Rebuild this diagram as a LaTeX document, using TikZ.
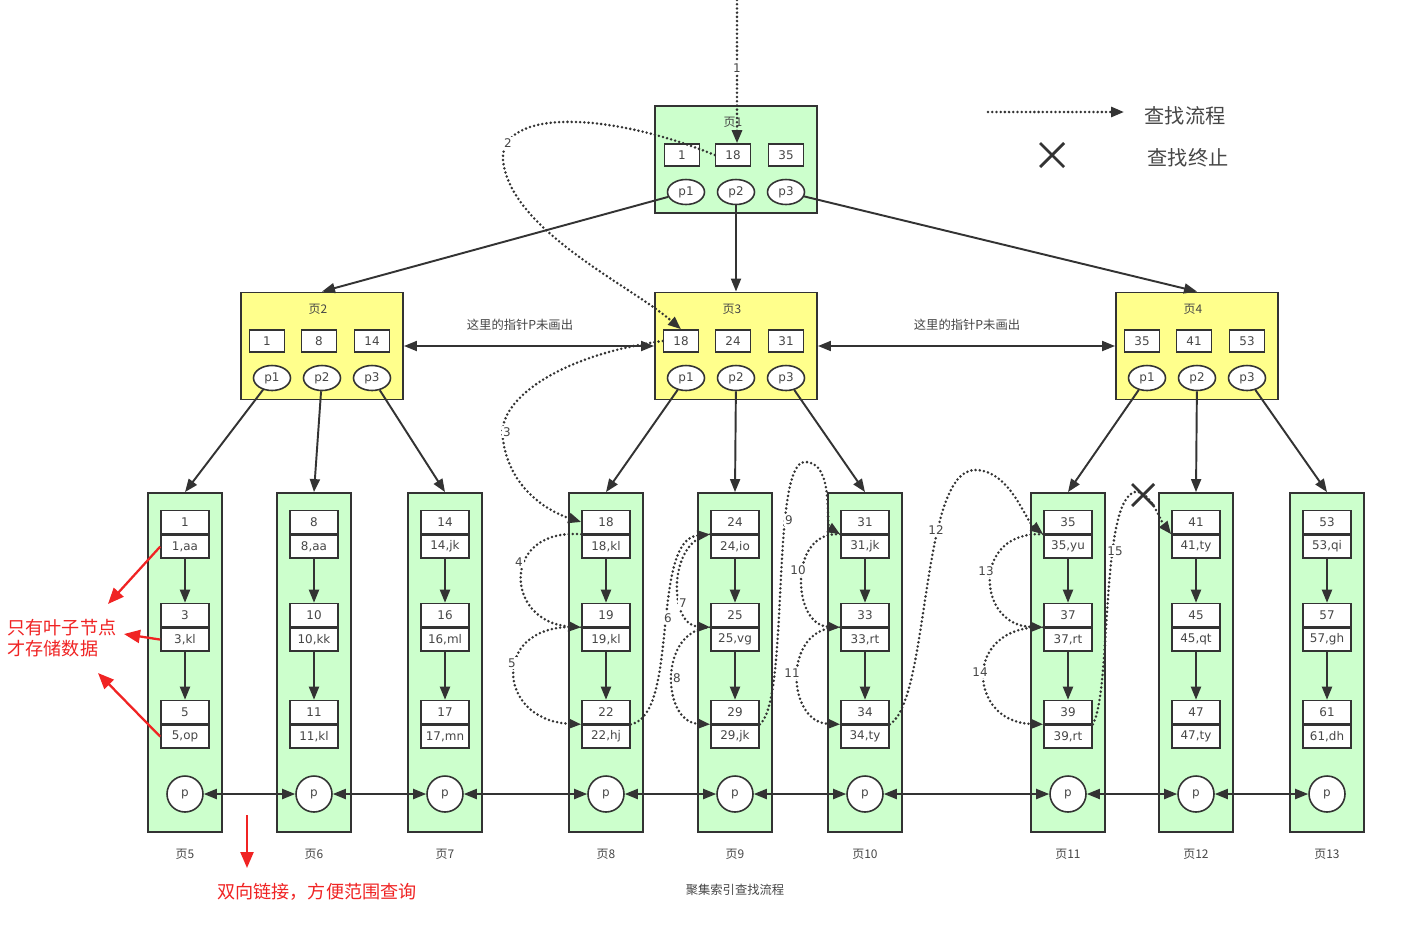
\documentclass[tikz,border=0pt]{standalone}
\usepackage{fontspec}
\setmainfont{DejaVu Sans}
\newfontfamily\cjk{Noto Sans CJK SC}
\usetikzlibrary{arrows.meta,positioning,shapes.geometric}

\definecolor{leafgreen}{RGB}{204,255,204}
\definecolor{pageyellow}{RGB}{255,255,140}
\definecolor{edgegray}{RGB}{51,51,51}
\definecolor{txtgray}{RGB}{70,70,70}
\definecolor{annored}{RGB}{240,35,35}

\tikzset{
  tip/.style={-{Triangle[length=2.6mm,width=2mm]}},
  pagebox/.style={draw=edgegray, line width=1.1pt, minimum width=3.24cm, minimum height=2.14cm, inner sep=0pt},
  leafbox/.style={draw=edgegray, line width=1.1pt, fill=leafgreen, minimum width=1.48cm, minimum height=6.78cm, inner sep=0pt},
  keybox/.style={draw=edgegray, fill=white, line width=0.9pt, minimum width=0.7cm, minimum height=0.44cm, inner sep=0pt, text=txtgray, font=\fontsize{6.8}{7}\selectfont},
  recbox/.style={draw=edgegray, fill=white, line width=0.9pt, minimum width=0.96cm, minimum height=0.46cm, inner sep=0pt, text=txtgray, font=\fontsize{6.8}{7}\selectfont},
  ptr/.style={ellipse, draw=edgegray, fill=white, line width=0.9pt, minimum width=0.74cm, minimum height=0.5cm, inner sep=0pt, text=txtgray, font=\fontsize{6.8}{7}\selectfont},
  pcirc/.style={circle, draw=edgegray, fill=white, line width=0.9pt, minimum size=0.72cm, inner sep=0pt, text=txtgray, font=\fontsize{6.8}{7}\selectfont},
  pagetitle/.style={text=txtgray, font=\cjk\fontsize{6.8}{7}\selectfont},
  notelabel/.style={text=txtgray, font=\cjk\fontsize{7}{8}\selectfont},
  treearrow/.style={draw=edgegray, line width=1.1pt, tip},
  linkarrow/.style={draw=edgegray, line width=1.1pt, {Triangle[length=2.6mm,width=2mm]}-{Triangle[length=2.6mm,width=2mm]}},
  flow/.style={draw=edgegray, line width=1.6pt, line cap=round, dash pattern=on 0pt off 2.4pt, tip},
  flownum/.style={fill=white, inner sep=0.8pt, text=txtgray, font=\fontsize{6.8}{7}\selectfont},
  stopmark/.style={draw=edgegray, line width=1.6pt},
  redarrow/.style={draw=annored, line width=1.3pt, -{Triangle[length=3.2mm,width=2.6mm]}},
  redtext/.style={text=annored, font=\cjk\fontsize{10.3}{12}\selectfont, align=left, inner sep=0pt}
}

\begin{document}
\begin{tikzpicture}[x=0.02cm, y=-0.02cm]
    \useasboundingbox[fill=white] (0,0) rectangle (1426,934);

    \node[pagebox, fill=leafgreen] (pg1) at (736,159.5) {};
    \node[pagetitle] (t1) at (733,122) {页1};
    \node[keybox] (key1a) at (682,155) {1};
    \node[keybox] (key1b) at (733,155) {18};
    \node[keybox] (key1c) at (786,155) {35};
    \node[ptr] (ptr1a) at (686,192) {p1};
    \node[ptr] (ptr1b) at (736,192) {p2};
    \node[ptr] (ptr1c) at (786,192) {p3};

    \foreach \pg/\x/\a/\b/\c in {2/322/1/8/14, 3/736/18/24/31, 4/1197/35/41/53} {
        \node[pagebox, fill=pageyellow] (pg\pg) at (\x,346) {};
        \node[pagetitle] (t\pg) at (\x-4,309) {页\pg};
        \node[keybox] (key\pg a) at (\x-55,341) {\a};
        \node[keybox] (key\pg b) at (\x-3,341) {\b};
        \node[keybox] (key\pg c) at (\x+50,341) {\c};
        \node[ptr] (ptr\pg a) at (\x-50,378) {p1};
        \node[ptr] (ptr\pg b) at (\x,378) {p2};
        \node[ptr] (ptr\pg c) at (\x+50,378) {p3};
    }

    \foreach \pg/\x/\ka/\va/\kb/\vb/\kc/\vc in {5/185/1/{1,aa}/3/{3,kl}/5/{5,op},
        6/314/8/{8,aa}/10/{10,kk}/11/{11,kl}, 7/445/14/{14,jk}/16/{16,ml}/17/{17,mn},
        8/606/18/{18,kl}/19/{19,kl}/22/{22,hj}, 9/735/24/{24,io}/25/{25,vg}/29/{29,jk},
        10/865/31/{31,jk}/33/{33,rt}/34/{34,ty}, 11/1068/35/{35,yu}/37/{37,rt}/39/{39,rt},
        12/1196/41/{41,ty}/45/{45,qt}/47/{47,ty}, 13/1327/53/{53,qi}/57/{57,gh}/61/{61,dh}} {
        \node[leafbox] (leaf\pg) at (\x,662.5) {};
        \node[recbox] (ka\pg) at (\x,522) {\ka};
        \node[recbox, below=0pt of ka\pg] (va\pg) {\va};
        \node[recbox] (kb\pg) at (\x,615) {\kb};
        \node[recbox, below=0pt of kb\pg] (vb\pg) {\vb};
        \node[recbox] (kc\pg) at (\x,712) {\kc};
        \node[recbox, below=0pt of kc\pg] (vc\pg) {\vc};
        \node[pcirc] (p\pg) at (\x,794) {p};
        \node[pagetitle] (lbl\pg) at (\x,854) {页\pg};
        \draw[treearrow] (va\pg) -- (kb\pg);
        \draw[treearrow] (vb\pg) -- (kc\pg);
    }

    \draw[treearrow] (ptr1a) -- (pg2.north);
    \draw[treearrow] (ptr1b) -- (pg3.north);
    \draw[treearrow] (ptr1c) -- (pg4.north);
    \foreach \pg/\l/\m/\r in {2/5/6/7, 3/8/9/10, 4/11/12/13} {
        \draw[treearrow] (ptr\pg a) -- (leaf\l.north);
        \draw[treearrow] (ptr\pg b) -- (leaf\m.north);
        \draw[treearrow] (ptr\pg c) -- (leaf\r.north);
    }

    \draw[linkarrow] (pg2) -- (pg3);
    \draw[linkarrow] (pg3) -- (pg4);
    \node[notelabel] (note23) at (520,325) {这里的指针P未画出};
    \node[notelabel] (note34) at (967,325) {这里的指针P未画出};
    \foreach \a/\b in {5/6,6/7,7/8,8/9,9/10,10/11,11/12,12/13}
        \draw[linkarrow] (p\a) -- (p\b);

    % search flow
    \coordinate (entry) at (737,0);
    \draw[flow] (entry) -- (entry |- key1b.north);
    \draw[flow] (key1b.west) .. controls (610,112) and (500,108) .. (503,160)
        .. controls (510,230) and (630,285) .. (key3a.north);
    \draw[flow] (key3a.west) .. controls (560,355) and (495,400) .. (503,440)
        .. controls (510,490) and (550,512) .. (ka8.west);
    \draw[flow] (va8.north west) .. controls (500,528) and (505,622) .. (vb8.north west);
    \draw[flow] (vb8.north west) .. controls (490,620) and (495,720) .. (vc8.north west);
    \draw[flow] (vc8.north east) .. controls (680,715) and (650,540) .. (va9.north west);
    \draw[flow] (va9.north west) .. controls (668,540) and (668,625) .. (vb9.north west);
    \draw[flow] (vb9.north west) .. controls (658,630) and (662,722) .. (vc9.north west);
    \draw[flow] (vc9.north east) .. controls (790,700) and (770,462) .. (805,462)
        .. controls (835,462) and (825,525) .. (va10.north west);
    \draw[flow] (va10.north west) .. controls (788,530) and (792,625) .. (vb10.north west);
    \draw[flow] (vb10.north west) .. controls (782,625) and (786,722) .. (vc10.north west);
    \draw[flow] (vc10.north east) .. controls (930,700) and (920,470) .. (975,470)
        .. controls (1010,470) and (1025,520) .. (va11.north west);
    \draw[flow] (va11.north west) .. controls (972,530) and (976,625) .. (vb11.north west);
    \draw[flow] (vb11.north west) .. controls (962,625) and (968,722) .. (vc11.north west);
    \draw[flow] (vc11.north east) .. controls (1112,690) and (1100,500) .. (1135,492)
        .. controls (1150,490) and (1160,520) .. (va12.north west);
    \foreach \n/\x/\y in {1/737/68, 2/508/143, 3/507/432, 4/519/562, 5/512/663, 6/668/618,
        7/683/603, 8/677/678, 9/789/520, 10/798/570, 11/792/673, 12/936/530,
        13/986/571, 14/980/672, 15/1115/551}
        \node[flownum] (num\n) at (\x,\y) {\n};
    \coordinate (stop) at (1143,495);
    \draw[stopmark] ([shift={(-11,-11)}]stop) -- ([shift={(11,11)}]stop);
    \draw[stopmark] ([shift={(-11,11)}]stop) -- ([shift={(11,-11)}]stop);

    % legend
    \coordinate (legA) at (988,112);
    \coordinate (legB) at (1124,112);
    \draw[flow] (legA) -- (legB);
    \node[text=txtgray, font=\cjk\fontsize{11.5}{13}\selectfont] (legflow) at (1185,116) {查找流程};
    \coordinate (legstop) at (1052,155);
    \draw[stopmark] ([shift={(-12,-12)}]legstop) -- ([shift={(12,12)}]legstop);
    \draw[stopmark] ([shift={(-12,12)}]legstop) -- ([shift={(12,-12)}]legstop);
    \node[text=txtgray, font=\cjk\fontsize{11.5}{13}\selectfont] (legend2) at (1188,158) {查找终止};

    % notes
    \node[redtext] (leafnote) at (62,638) {只有叶子节点\\才存储数据};
    \coordinate (r1) at (108,604);
    \coordinate (r2) at (124,634);
    \coordinate (r3) at (98,673);
    \draw[redarrow] (va5.west) -- (r1);
    \draw[redarrow] (vb5.west) -- (r2);
    \draw[redarrow] (vc5.west) -- (r3);
    \coordinate (r4) at (247,815);
    \coordinate (r5) at (247,868);
    \draw[redarrow] (r4) -- (r5);
    \node[redtext] (linknote) at (317,892) {双向链接，方便范围查询};
    \node[notelabel] (caption) at (735,890) {聚集索引查找流程};
\end{tikzpicture}
\end{document}
